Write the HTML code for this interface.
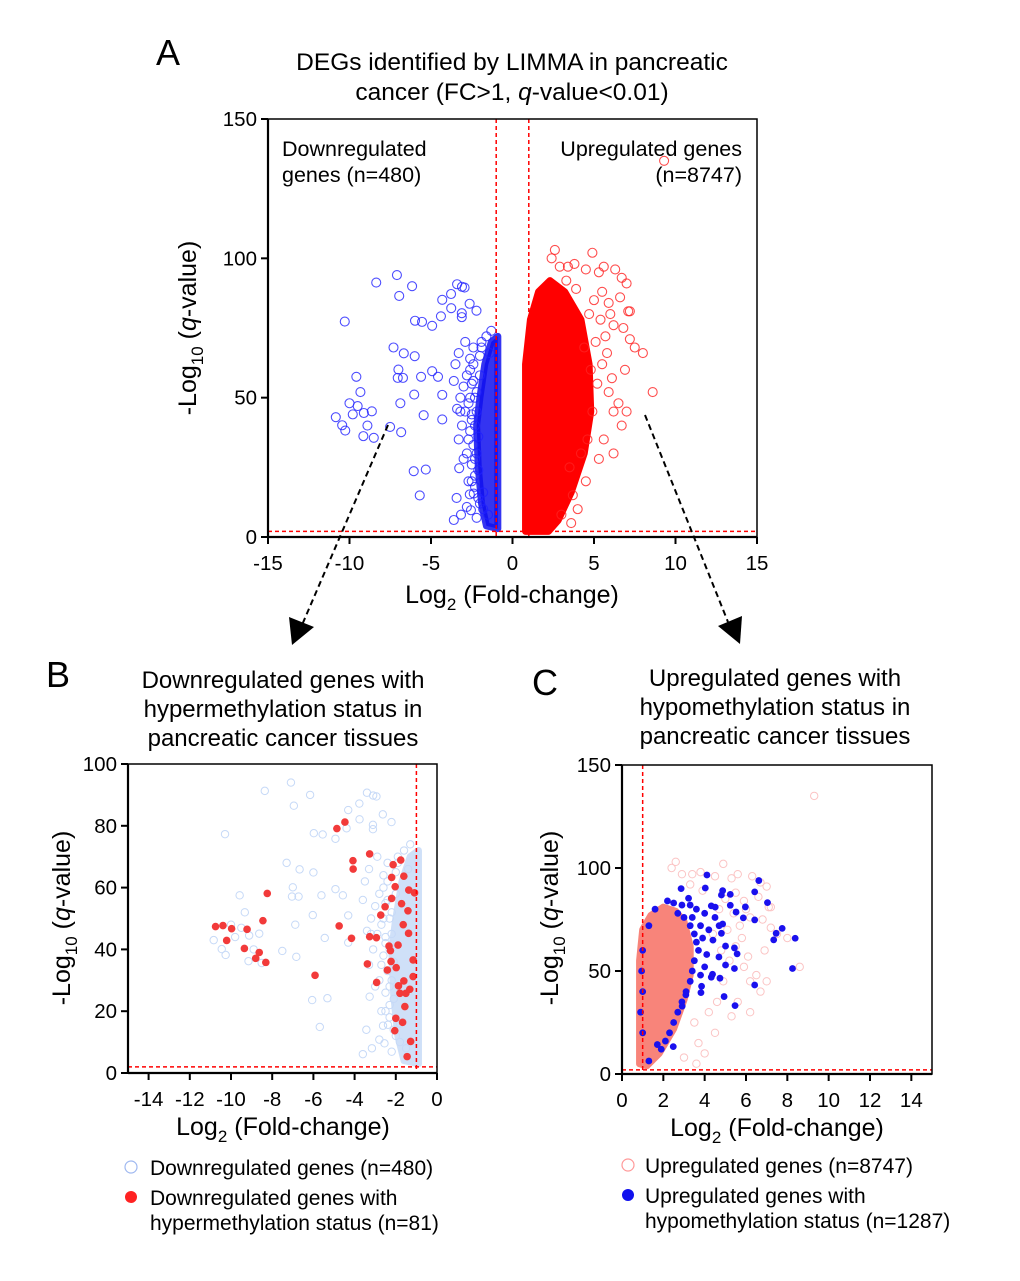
<!DOCTYPE html>
<html><head><meta charset="utf-8"><style>
body{margin:0;background:#fff;}
svg{display:block;font-family:"Liberation Sans",Arial,sans-serif;}
</style></head><body>
<svg id="fig" width="1020" height="1281" viewBox="0 0 1020 1281" xmlns="http://www.w3.org/2000/svg">
<g id="layer"></g>
</svg>
<script>
// ---------- DATA ----------
const downFC = [-8.36,-7.09,-6.16,-6.95,-10.29,-5.98,-5.55,-4.93,-4.39,-4.31,-3.77,-3.40,-3.1,-2.94,-3.76,-3.11,-3.11,-2.63,-2.21,-7.30,-6.67,-6.0,-7.0,-7.04,-6.72,-5.61,-4.93,-4.57,-9.58,-9.33,-6.03,-4.31,-6.88,-10.84,-10.45,-10.26,-9.12,-8.63,-9.15,-8.51,-7.51,-6.83,-5.45,-4.31,-6.06,-5.32,-5.69,-3.43,-3.6,-3.16,-2.8,-2.55,-2.2,-3.27,-2.62,-2.38,-2.6,-2.4,-2.8,-2.5,-2.3,-2.7,-2.9,-2.5,-2.2,-2.6,-2.4,-2.8,-2.3,-2.1,-2.5,-2.3,-1.9,-2.0,-1.6,-1.3,-1.4,-3.0,-3.2,-3.5,-3.3,-2.9,-1.8,-1.5,-2.0,-3.0,-3.3,-3.1,-10.0,-9.8,-9.5,-8.9,-2.2,-2.4,-2.6,-2.1,-2.3,-2.5,-2.7,-2.2,-1.9,-2.4,-2.6,-2.0,-2.3,-2.1,-1.8,-2.5,-2.7,-3.4,-3.6,-3.2];
const downQ  = [91.3,94.0,90.0,86.5,77.3,77.6,77.2,75.8,79.2,85.1,87.2,90.7,89.8,89.5,82.1,80.3,78.9,83.7,81.2,68.0,65.9,64.9,60.1,57.1,57.1,57.5,59.5,57.5,57.5,52.0,51.1,51.0,48.0,43.0,40.1,38.2,44.5,45.1,36.2,35.6,39.5,37.6,43.7,42.2,23.6,24.2,14.9,14.0,6.1,8.0,10.8,9.6,6.9,24.7,15.3,15.6,60,62,58,55,50,48,45,42,45,38,33,30,28,24,20,18,70,65,72,74,66,54,50,62,66,70,10,8,12,28,35,40,48,44,47,40,52,56,64,36,40,44,35,30,68,68,50,58,22,14,16,26,20,46,56,45];
const downCoreFC = [-0.9,-0.9,-1.3,-1.7,-2.0,-2.2,-2.1,-1.9,-1.6];
const downCoreQ  = [3,72,70,62,50,40,25,12,4];
const hyperFC = [-10.75,-10.39,-9.97,-10.21,-9.22,-8.45,-8.24,-9.35,-8.63,-8.80,-8.31,-5.92,-4.75,-4.86,-4.47,-4.08,-4.07,-3.27,-4.15,-3.27,-2.94,-3.38,-2.73,-2.52,-2.20,-2.33,-2.26,-2.23,-2.41,-1.98,-2.93,-2.13,-1.76,-2.20,-1.61,-2.03,-1.37,-1.09,-1.72,-1.41,-1.64,-1.89,-1.87,-1.61,-1.80,-1.51,-1.32,-1.16,-1.56,-2.0,-1.67,-2.05,-1.45,-1.28,-1.16,-1.38];
const hyperQ  = [47.4,47.7,46.7,42.9,46.5,49.3,58.1,40.3,39.0,37.1,35.8,31.6,47.6,79.1,81.2,68.7,66.0,70.9,43.6,44.1,43.8,35.3,51.1,53.8,56.5,41.1,39.6,36.1,33.3,34.1,29.3,67.4,68.9,63.3,63.7,60.3,59.2,58.3,54.8,52.5,48.0,41.4,28.2,29.8,25.8,25.8,27.1,31.2,21.5,17.7,16.4,13.7,5.3,10.2,36.6,45.2];
const upFC = [2.6,4.9,2.4,2.9,3.4,3.8,4.5,5.3,5.6,6.3,6.7,7.0,7.1,7.2,6.8,8.0,8.6,7.2,7.5,6.0,6.2,5.7,5.5,6.1,6.5,7.0,6.2,6.7,5.6,5.3,6.2,4.5,4.0,3.0,3.6,9.3,5.0,5.5,3.9,6.6,5.9,4.8,5.2,4.9,5.8,4.6,4.2,3.7,5.1,5.4,4.4,3.3,4.7,5.9,6.9,3.5];
const upQ  = [103,102,100,97,97,98,96,95,97,96,93,91,81,81,75,66,52,71,68,80,76,72,62,57,48,45,45,40,35,28,30,20,10,8,5,135,85,88,89,86,84,60,55,45,66,35,30,15,70,78,68,92,80,52,60,25];
const upCoreFC = [0.8,0.8,1.1,1.6,2.3,3.2,4.2,4.7,4.8,4.4,3.6,2.8,2.2];
const upCoreQ  = [2,62,78,88,92,88,78,62,45,30,16,6,2];
const upCoreCFC = [0.85,0.85,1.0,1.4,2.0,2.6,3.0,3.3,3.3,3.0,2.5,1.8,1.2];
const upCoreCQ  = [5,55,70,77,81,79,74,62,48,36,22,10,4];
const hypoFC = [4.11,6.62,2.86,4.03,4.87,6.42,4.81,5.24,3.22,7.04,5.24,4.32,5.97,5.52,6.42,5.87,7.75,7.46,8.38,7.34,4.87,4.81,5.01,5.44,5.57,4.69,5.01,5.44,8.25,4.38,4.74,4.32,6.42,3.85,3.82,4.94,5.47,3.09,2.91,2.48,1.71,1.30,4.51,2.7,3.0,3.3,3.5,3.6,3.7,3.5,3.4,3.3,3.1,2.9,2.7,2.5,2.3,2.1,1.9,3.8,3.9,4.0,3.6,3.3,2.9,4.2,4.4,4.1,4.0,3.8,4.5,4.7,3.4,2.5,2.2,1.6,1.3,1.0,0.95,1.0,0.9,1.0];
const hypoQ  = [96.6,93.9,90.0,90.3,89.0,88.4,86.9,87.2,85.3,83.2,81.9,81.6,81.1,78.6,74.8,75.8,70.7,68.3,65.9,65.1,72.8,68.3,62.1,61.2,58.3,56.8,52.9,51.2,51.2,48.4,46.5,47.0,43.2,42.6,39.5,37.6,33.2,38.4,32.9,13.3,14.3,6.3,81,78,76,72,68,64,60,55,50,45,40,35,30,25,20,16,12,72,66,78,80,82,82,70,65,58,52,48,76,72,76,83,84,80,72,60,50,40,30,20,10];
const ticksAx = [-15,-10,-5,0,5,10,15], ticksAy=[0,50,100,150];
const ticksBx = [-14,-12,-10,-8,-6,-4,-2,0], ticksBy=[0,20,40,60,80,100];
const ticksCx = [0,2,4,6,8,10,12,14], ticksCy=[0,50,100,150];

// ---------- DRAW ----------
const NS="http://www.w3.org/2000/svg";
const L=document.getElementById('layer');
function mk(tag,at,parent){const e=document.createElementNS(NS,tag);for(const k in at)e.setAttribute(k,at[k]);(parent||L).appendChild(e);return e;}
function txt(s,x,y,size,anchor,parent){const t=mk('text',{x:x,y:y,'font-size':size,'text-anchor':anchor||'middle',fill:'#000'},parent);t.textContent=s;return t;}
function scale(d0,d1,p0,p1){return v=>p0+(v-d0)*(p1-p0)/(d1-d0);}

function panel(o){
  const g=mk('g',{});
  
  
  const sx=scale(o.xd[0],o.xd[1],o.x0,o.x1), sy=scale(o.yd[0],o.yd[1],o.y0,o.y1);
  const clip=mk('clipPath',{id:o.name+'-clip'},g);
  mk('rect',{x:o.x0,y:o.y1,width:o.x1-o.x0,height:o.y0-o.y1},clip);
  const pg=mk('g',{'clip-path':'url(#'+o.name+'-clip)'},g);
  
  
  o.draw(pg,sx,sy);
  const vx=mk('line',{x1:sx(o.vline),x2:sx(o.vline),y1:o.y1,y2:o.y0,stroke:'#f00','stroke-width':1.5,'stroke-dasharray':'4,3'},g);
  
  
  const hx=mk('line',{x1:o.x0,x2:o.x1,y1:sy(2),y2:sy(2),stroke:'#f00','stroke-width':1.5,'stroke-dasharray':'4,3'},g);
  
  
  if(o.vline2!==undefined){const v2=mk('line',{x1:sx(o.vline2),x2:sx(o.vline2),y1:o.y1,y2:o.y0,stroke:'#f00','stroke-width':1.5,'stroke-dasharray':'4,3'},g);
    
    }
  const fr=mk('rect',{x:o.x0,y:o.y1,width:o.x1-o.x0,height:o.y0-o.y1,fill:'none',stroke:'#000','stroke-width':1.5},g);
  
  
  mk('line',{x1:o.x0,x2:o.x0,y1:o.y1,y2:o.y0,stroke:'#000','stroke-width':2.2},g);
  mk('line',{x1:o.x0,x2:o.x1,y1:o.y0,y2:o.y0,stroke:'#000','stroke-width':2.2},g);
  o.xt.forEach(v=>{mk('line',{x1:sx(v),x2:sx(v),y1:o.y0,y2:o.y0+7,stroke:'#000','stroke-width':2},g);
    const t=txt(String(v),sx(v),o.y0+33,20.5,'middle',g);
    
    });
  o.yt.forEach(v=>{mk('line',{x1:o.x0-7,x2:o.x0,y1:sy(v),y2:sy(v),stroke:'#000','stroke-width':2},g);
    const t=txt(String(v),o.x0-11,sy(v)+7,20.5,'end',g);
    
    });
  const xt=mk('text',{x:o.xtx,y:o.xty,'font-size':25,'text-anchor':'middle'},g);
  
  
  xt.innerHTML='Log<tspan font-size="17" dy="7">2</tspan><tspan dy="-7"> (Fold-change)</tspan>';
  const yt=mk('text',{x:0,y:0,'font-size':25,'text-anchor':'middle',transform:'translate('+o.ytx+','+o.yty+') rotate(-90)'},g);
  
  
  yt.innerHTML='-Log<tspan font-size="17" dy="7">10</tspan><tspan dy="-7"> (</tspan><tspan font-style="italic">q</tspan>-value)';
  return g;
}
function poly(g,xs,ys,sx,sy,fill,op){
  const pts=xs.map((v,i)=>sx(v)+','+sy(ys[i])).join(' ');
  const p=mk('polygon',{points:pts,fill:fill,'fill-opacity':op,stroke:fill,'stroke-width':7,'stroke-linejoin':'round','stroke-opacity':op},g);
  
  
}
function pts(g,xs,ys,sx,sy,r,attrs,name){
  xs.forEach((v,i)=>{const c=mk('circle',Object.assign({cx:sx(v),cy:sy(ys[i]),r:r},attrs),g);
    
    });
}

panel({name:'panel-a',x0:268,x1:757,y0:537,y1:119,xd:[-15,15],yd:[0,150],xt:ticksAx,yt:ticksAy,vline:-1,vline2:1,
  xtx:512,xty:603,ytx:196,yty:328,
  draw:(g,sx,sy)=>{
    poly(g,downCoreFC,downCoreQ,sx,sy,'#1010ee',0.85);
    poly(g,upCoreFC,upCoreQ,sx,sy,'#ff0000',1);
    pts(g,downFC,downQ,sx,sy,4.5,{fill:'none',stroke:'#2020ff','stroke-width':1.1,'stroke-opacity':0.8},'downregulated-gene-point');
    pts(g,upFC,upQ,sx,sy,4.5,{fill:'none',stroke:'#ff2020','stroke-width':1.1,'stroke-opacity':0.8},'upregulated-gene-point');
  }});
panel({name:'panel-b',x0:128,x1:437,y0:1073,y1:764,xd:[-15,0],yd:[0,100],xt:ticksBx,yt:ticksBy,vline:-1,
  xtx:283,xty:1135,ytx:70,yty:918,
  draw:(g,sx,sy)=>{
    poly(g,downCoreFC,downCoreQ,sx,sy,'#cfe0f8',1);
    pts(g,downFC,downQ,sx,sy,3.7,{fill:'none',stroke:'#c6d9f7','stroke-width':1},'downregulated-gene-point');
    pts(g,hyperFC,hyperQ,sx,sy,3.8,{fill:'#f23a3a'},'hypermethylated-gene-point');
  }});
panel({name:'panel-c',x0:622,x1:932,y0:1074,y1:765,xd:[0,15],yd:[0,150],xt:ticksCx,yt:ticksCy,vline:1,
  xtx:777,xty:1136,ytx:558,yty:918,
  draw:(g,sx,sy)=>{
    pts(g,upFC,upQ,sx,sy,3.7,{fill:'none',stroke:'#fbc4c4','stroke-width':1},'upregulated-gene-point');
    poly(g,upCoreCFC,upCoreCQ,sx,sy,'#f8847a',1);
    pts(g,hypoFC,hypoQ,sx,sy,3.4,{fill:'#1a10ee'},'hypomethylated-gene-point');
  }});

function label(s,x,y,size,anchor,name){const t=txt(s,x,y,size,anchor);
  
  return t;}
label('A',168,65,36,'middle','panel-a-letter');
label('B',58,687,36,'middle','panel-b-letter');
label('C',545,695,36,'middle','panel-c-letter');
label('DEGs identified by LIMMA in pancreatic',512,70,24.5,'middle','panel-a-title');
const t2=label('',512,100,24.5,'middle','panel-a-title-line2');
t2.innerHTML='cancer (FC&gt;1, <tspan font-style="italic">q</tspan>-value&lt;0.01)';
label('Downregulated',282,156,21.5,'start','down-annotation');
label('genes (n=480)',282,182,21.5,'start','down-annotation-count');
label('Upregulated genes',742,156,21.5,'end','up-annotation');
label('(n=8747)',742,182,21.5,'end','up-annotation-count');
['Downregulated genes with','hypermethylation status in','pancreatic cancer tissues'].forEach((s,i)=>label(s,283,688+i*29,24,'middle','panel-b-title'));
['Upregulated genes with','hypomethylation status in','pancreatic cancer tissues'].forEach((s,i)=>label(s,775,686+i*29,24,'middle','panel-c-title'));

let c;
c=mk('circle',{cx:131,cy:1167,r:6,fill:'none',stroke:'#9fb8f0','stroke-width':1.2});


label('Downregulated genes (n=480)',150,1175,21,'start','legend-entry-downregulated');
c=mk('circle',{cx:131,cy:1197,r:6,fill:'#f22'});


label('Downregulated genes with',150,1205,21,'start','legend-entry-hypermethylated');
label('hypermethylation status (n=81)',150,1230,21,'start','legend-entry-hypermethylated-line2');
c=mk('circle',{cx:628,cy:1165,r:6,fill:'none',stroke:'#f99','stroke-width':1.2});


label('Upregulated genes (n=8747)',645,1173,21,'start','legend-entry-upregulated');
c=mk('circle',{cx:628,cy:1195,r:6,fill:'#11e'});


label('Upregulated genes with',645,1203,21,'start','legend-entry-hypomethylated');
label('hypomethylation status (n=1287)',645,1228,21,'start','legend-entry-hypomethylated-line2');

let a;
a=mk('line',{x1:388,y1:425,x2:302,y2:625,stroke:'#000','stroke-width':2,'stroke-dasharray':'6,4'});


a=mk('polygon',{points:'292,645 289,617 314,627',fill:'#000'});


a=mk('line',{x1:645,y1:415,x2:728,y2:622,stroke:'#000','stroke-width':2,'stroke-dasharray':'6,4'});


a=mk('polygon',{points:'740,644 718,626 742,616',fill:'#000'});


</script>
</body></html>
